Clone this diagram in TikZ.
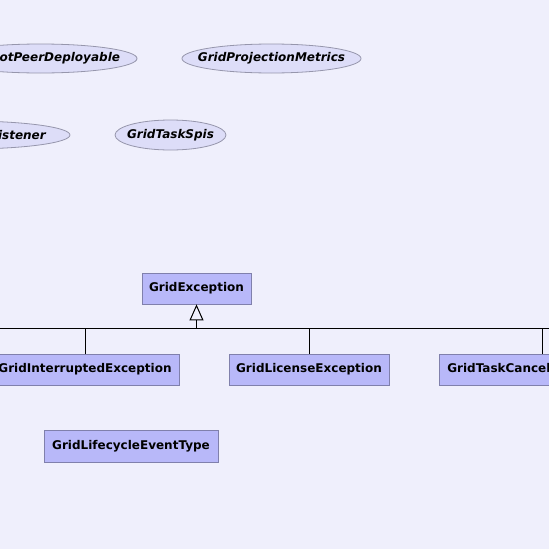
\documentclass[tikz,border=0pt]{standalone}
\usepackage{fontspec}
\setmainfont{DejaVu Sans}
\usetikzlibrary{arrows.meta,shapes.geometric}
\definecolor{canvas}{RGB}{239,239,252}
\definecolor{classfill}{RGB}{184,184,249}
\definecolor{classline}{RGB}{128,128,172}
\definecolor{ifacefill}{RGB}{221,221,248}
\definecolor{ifaceline}{RGB}{150,150,172}
\newcommand{\ifacename}[1]{\makebox[0pt]{#1}}
\tikzset{
  classbox/.style={draw=classline, fill=classfill, line width=0.8pt, inner sep=0pt,
    minimum height=31pt, font=\fontsize{12}{14}\selectfont\bfseries},
  iface/.style={ellipse, draw=ifaceline, fill=ifacefill, line width=0.8pt, inner sep=0pt,
    minimum height=29pt, font=\fontsize{12}{14}\selectfont\bfseries\itshape},
  link/.style={draw=black, line width=0.8pt},
  inherit/.style={link, -{Triangle[open, length=16pt, width=14pt, line width=1pt]}}
}
\begin{document}
\begin{tikzpicture}[x=1pt, y=-1pt]
  \useasboundingbox (0,0) rectangle (549,549);
  \fill[canvas] (0,0) rectangle (549,549);
  \clip (0,0) rectangle (549,549);

  % interfaces
  \node[iface, minimum width=193pt] (npd) at (40.5,58.5) {\ifacename{GridNotPeerDeployable}};
  \node[iface, minimum width=179pt] (gpm) at (271.5,58.5) {\ifacename{GridProjectionMetrics}};
  \node[iface, minimum width=206pt, minimum height=28pt] (lel) at (-33,135) {\ifacename{GridLocalEventListener}};
  \node[iface, minimum width=111pt, minimum height=30pt] (tsp) at (170.5,135) {\ifacename{GridTaskSpis}};

  % exception hierarchy
  \node[classbox, minimum width=109pt] (gex) at (196.5,288.5) {GridException};
  \node[classbox, minimum width=188pt] (gie) at (85,369.5) {GridInterruptedException};
  \node[classbox, minimum width=160pt] (gle) at (309,369.5) {GridLicenseException};
  \node[classbox, minimum width=207pt] (gtc) at (542.5,369.5) {GridTaskCancelledException};

  % enum
  \node[classbox, minimum width=174pt, minimum height=32pt] (let) at (131,446.5) {GridLifecycleEventType};

  % inheritance bus
  \coordinate (busL) at (-20,328.5);
  \coordinate (busR) at (570,328.5);
  \coordinate (busJ) at (196.5,328.5);
  \draw[link] (busL) -- (busR);
  \draw[inherit] (busJ) -- (gex.south);
  \draw[link] (gie.north) -- (gie.north |- busJ);
  \draw[link] (gle.north) -- (gle.north |- busJ);
  \draw[link] (gtc.north) -- (gtc.north |- busJ);
\end{tikzpicture}
\end{document}
